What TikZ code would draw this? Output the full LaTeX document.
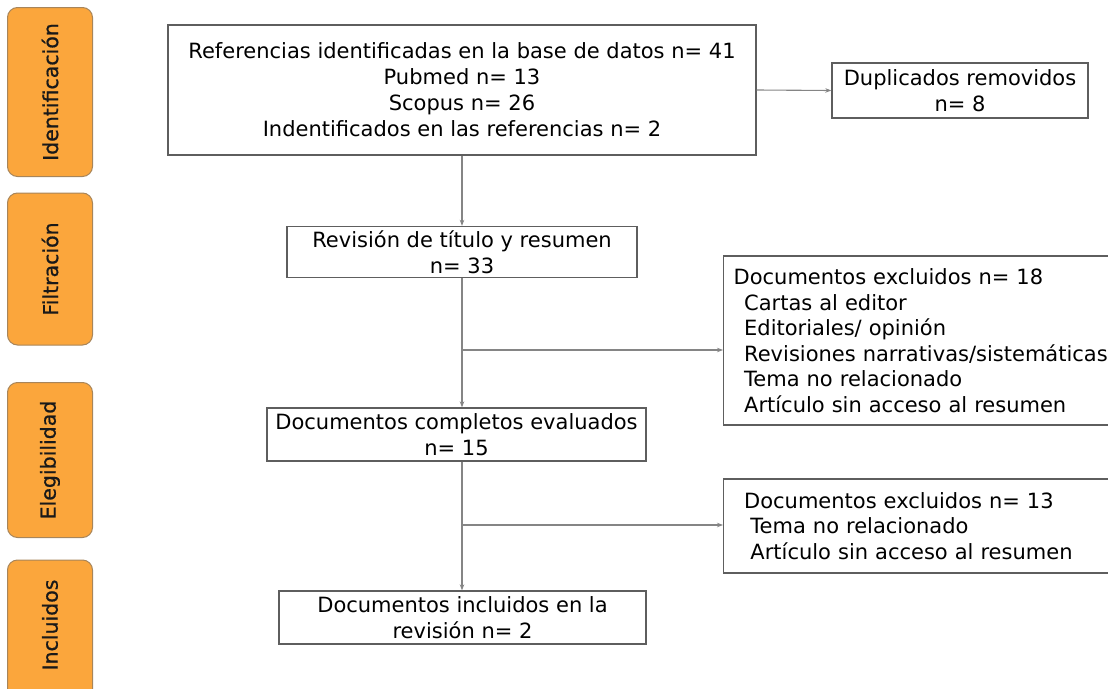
\documentclass[tikz,border=0pt]{standalone}
\usepackage{fontspec}
\setmainfont{DejaVu Sans}
\newfontfamily\phasefont[FakeBold=0.8]{DejaVu Sans}
\usetikzlibrary{arrows.meta}
\definecolor{phase}{HTML}{FBA63C}
\definecolor{phaseedge}{HTML}{A8855A}
\definecolor{boxedge}{HTML}{5E5E5E}
\definecolor{linkc}{HTML}{858585}
\tikzset{
  phasebox/.style={draw=phaseedge, fill=phase, line width=1pt, rounded corners=10pt,
    minimum width=85pt, inner sep=0pt},
  phaselabel/.style={rotate=90, font=\phasefont\fontsize{20.5}{24}\selectfont, text=black!90},
  flowbox/.style={draw=boxedge, line width=1.3pt, inner sep=0pt, align=center,
    font=\fontsize{21}{26}\selectfont},
  sidebox/.style={draw=boxedge, line width=1.3pt, inner xsep=7pt, inner ysep=0pt, align=left,
    anchor=west, font=\fontsize{21}{25.5}\selectfont},
  link/.style={draw=linkc, line width=1.1pt},
  arrowlink/.style={link, -{Stealth[length=6pt,width=4.5pt]}}
}
\begin{document}
\begin{tikzpicture}[x=1pt,y=-1pt]
\clip (0,0) rectangle (1108,688);
\useasboundingbox (0,0) rectangle (1108,688);
% phases
\node[phasebox, minimum height=169pt] (ph1) at (50,92) {};
\node[phaselabel] (lb1) at (ph1.center) {Identificación};
\node[phasebox, minimum height=152pt] (ph2) at (50,269) {};
\node[phaselabel] (lb2) at (ph2.center) {Filtración};
\node[phasebox, minimum height=155pt] (ph3) at (50,460) {};
\node[phaselabel] (lb3) at (ph3.center) {Elegibilidad};
\node[phasebox, minimum height=140pt] (ph4) at (50,630) {};
\node[phaselabel] (lb4) at (50,625) {Incluidos};
% main boxes
\node[flowbox, minimum width=588pt, minimum height=130pt] (top) at (462,90)
  {Referencias identificadas en la base de datos n= 41\\Pubmed n= 13\\Scopus n= 26\\Indentificados en las referencias n= 2};
\node[flowbox, minimum width=256pt, minimum height=55pt] (dup) at (960,90.5)
  {Duplicados removidos\\n= 8};
\node[flowbox, minimum width=350pt, minimum height=51pt] (rev) at (462,252)
  {Revisión de título y resumen\\n= 33};
\node[flowbox, minimum width=379pt, minimum height=53pt] (comp) at (456.5,434.5)
  {Documentos completos evaluados\\n= 15};
\node[flowbox, minimum width=367pt, minimum height=53pt] (inc) at (462.5,617.5)
  {Documentos incluidos en la\\revisión n= 2};
\node[sidebox, minimum width=430pt, minimum height=169pt, text width=410pt] (ex1) at (723,340.5)
  {Documentos excluidos n= 18\\\hspace*{0.5em}Cartas al editor\\\hspace*{0.5em}Editoriales/ opinión\\\hspace*{0.5em}Revisiones narrativas/sistemáticas\\\hspace*{0.5em}Tema no relacionado\\\hspace*{0.5em}Artículo sin acceso al resumen};
\node[sidebox, minimum width=430pt, minimum height=94pt, text width=410pt] (ex2) at (723,526)
  {\hspace*{0.5em}Documentos excluidos n= 13\\\hspace*{0.8em}Tema no relacionado\\\hspace*{0.8em}Artículo sin acceso al resumen};
% connectors
\coordinate (b1) at (462,350);
\coordinate (b2) at (462,525);
\draw[arrowlink] (top.south -| rev.north) -- (rev.north);
\draw[arrowlink] (top.east) -- (dup.west);
\draw[arrowlink] (rev.south) -- (rev.south |- comp.north);
\draw[arrowlink] (b1) -- (b1 -| ex1.west);
\draw[arrowlink] (rev.south |- comp.south) -- (rev.south |- inc.north);
\draw[arrowlink] (b2) -- (b2 -| ex2.west);
\end{tikzpicture}
\end{document}
